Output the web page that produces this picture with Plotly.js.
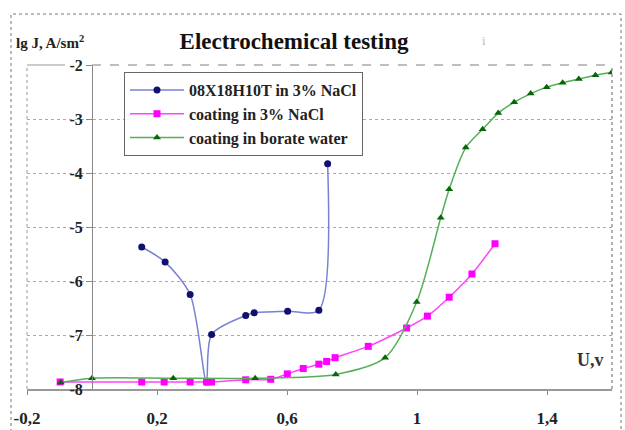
<!DOCTYPE html>
<html>
<head>
<meta charset="utf-8">
<script src="https://cdn.plot.ly/plotly-3.0.1.min.js"></script>
<style>html,body{margin:0;padding:0;background:#fff;}#chart{width:625px;height:430px;}</style>
</head>
<body>
<div id="chart"></div>
<script>
// Series: 08X18H10T in 3% NaCl
var steelU = [0.153, 0.225, 0.302, 0.352, 0.368, 0.473, 0.499, 0.602, 0.698, 0.725];
var steelJ = [-5.37, -5.65, -6.25, -7.87, -6.99, -6.64, -6.59, -6.56, -6.54, -3.83];
// Series: coating in 3% NaCl
var naclU = [-0.098, 0.153, 0.222, 0.302, 0.353, 0.368, 0.473, 0.55, 0.601, 0.65, 0.698, 0.722, 0.748, 0.85, 0.968, 1.032, 1.099, 1.169, 1.24];
var naclJ = [-7.87, -7.87, -7.87, -7.87, -7.87, -7.87, -7.83, -7.82, -7.72, -7.62, -7.54, -7.49, -7.42, -7.21, -6.87, -6.65, -6.30, -5.87, -5.31];
// Series: coating in borate water
var borU = [-0.096, 0.0, 0.25, 0.502, 0.75, 0.902, 0.999, 1.073, 1.099, 1.15, 1.202, 1.25, 1.299, 1.35, 1.399, 1.448, 1.498, 1.549, 1.599];
var borJ = [-7.88, -7.80, -7.80, -7.80, -7.73, -7.42, -6.39, -4.83, -4.30, -3.53, -3.19, -2.89, -2.69, -2.53, -2.41, -2.33, -2.26, -2.19, -2.14];
// Tick labels
var xTickVals = [-0.2, 0.2, 0.6, 1, 1.4];
var xTickText = ['-0,2', '0,2', '0,6', '1', '1,4'];
var yTickVals = [-8, -7, -6, -5, -4, -3, -2];
var yTickText = ['-8', '-7', '-6', '-5', '-4', '-3', '-2'];
var seriesNames = ['08X18H10T in 3% NaCl', 'coating in 3% NaCl', 'coating in borate water'];

var serif = 'Liberation Serif, Times New Roman, serif';

var traces = [
  {x: steelU, y: steelJ, name: seriesNames[0], type: 'scatter', mode: 'lines+markers',
   line: {color: '#7880d4', width: 1.5, shape: 'spline', smoothing: 0.8},
   marker: {color: '#10106e', size: 7, symbol: 'circle'}},
  {x: naclU, y: naclJ, name: seriesNames[1], type: 'scatter', mode: 'lines+markers',
   line: {color: '#ff44ff', width: 1.5, shape: 'spline', smoothing: 0.8},
   marker: {color: '#ff00ff', size: 7, symbol: 'square'}},
  {x: borU, y: borJ, name: seriesNames[2], type: 'scatter', mode: 'lines+markers',
   line: {color: '#55b055', width: 1.5, shape: 'spline', smoothing: 0.8},
   marker: {color: '#0a640a', size: 7, symbol: 'triangle-up'}}
];

var layout = {
  width: 625, height: 430,
  margin: {l: 27, r: 13, t: 65, b: 41},
  paper_bgcolor: '#fff', plot_bgcolor: '#fff',
  showlegend: true,
  title: {text: 'Electrochemical testing', x: 294/625, xanchor: 'center', xref: 'container',
          y: 1 - 41/430, yanchor: 'middle', yref: 'container',
          font: {family: serif, size: 23, color: '#111', weight: 700}},
  xaxis: {range: [-0.2, 1.6], tickvals: xTickVals, ticktext: xTickText,
          showgrid: false, zeroline: false, showline: true, linecolor: '#999', linewidth: 2,
          ticks: 'outside', ticklen: 4, tickcolor: '#888', ticklabelstandoff: 9,
          tickfont: {family: serif, size: 17, color: '#222', weight: 700}},
  yaxis: {range: [-8, -2], tickvals: yTickVals, ticktext: yTickText,
          anchor: 'free', position: 65/585, side: 'left',
          showgrid: true, gridcolor: '#aaa', griddash: 'dot', gridwidth: 1,
          zeroline: false, showline: true, linecolor: '#888', linewidth: 1,
          ticks: 'outside', ticklen: 6, tickcolor: '#888',
          tickfont: {family: serif, size: 16, color: '#222', weight: 700}},
  legend: {x: 97/585, y: (389-72)/324, xanchor: 'left', yanchor: 'top',
           bgcolor: '#fff', bordercolor: '#666', borderwidth: 1,
           itemwidth: 54, traceorder: 'normal',
           font: {family: serif, size: 16, color: '#222', weight: 700}},
  shapes: [
    {type: 'rect', xref: 'paper', yref: 'paper', x0: -16/585, x1: 594/585, y0: -60/324, y1: 375/324,
     line: {color: '#777', width: 1, dash: 'dot'}, layer: 'below'},
    {type: 'line', xref: 'paper', yref: 'paper', x0: 65/585, x1: 1, y0: 1, y1: 1,
     line: {color: '#aaa', width: 1.5, dash: 'dash'}},
    {type: 'line', xref: 'paper', yref: 'paper', x0: 0, x1: 0, y0: 0, y1: 1,
     line: {color: '#999', width: 1, dash: 'dot'}},
    {type: 'line', xref: 'paper', yref: 'paper', x0: 1, x1: 1, y0: 0, y1: 1,
     line: {color: '#999', width: 1.5, dash: 'dot'}},
    {type: 'line', xref: 'paper', yref: 'paper', x0: 0, x1: 38/585, y0: 1, y1: 1,
     line: {color: '#999', width: 1}}
  ],
  annotations: [
    {text: 'lg J, A/sm<sup>2</sup>', xref: 'paper', yref: 'paper', x: -13/585, y: (389-42)/324,
     xanchor: 'left', yanchor: 'middle', showarrow: false,
     font: {family: serif, size: 15, color: '#222', weight: 700}},
    {text: 'U,v', xref: 'paper', yref: 'paper', x: (590-27)/585, y: (389-360)/324,
     xanchor: 'center', yanchor: 'middle', showarrow: false,
     font: {family: serif, size: 18, color: '#333', weight: 700}},
    {text: 'i', xref: 'paper', yref: 'paper', x: (484-27)/585, y: (389-40)/324,
     xanchor: 'center', yanchor: 'middle', showarrow: false,
     font: {family: serif, size: 13, color: '#bbb'}}
  ]
};

Plotly.newPlot('chart', traces, layout, {displayModeBar: false, staticPlot: true});
</script>
</body>
</html>
